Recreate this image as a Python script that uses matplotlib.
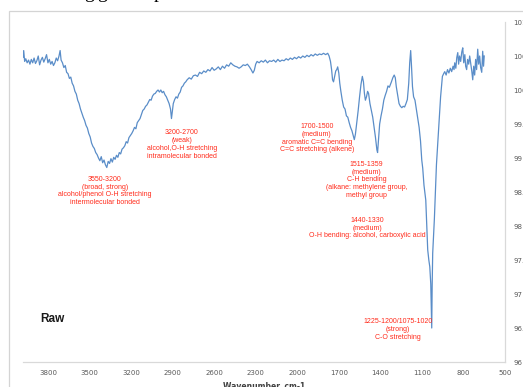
import matplotlib
matplotlib.use("Agg")
import matplotlib.pyplot as plt
from matplotlib.patches import Rectangle

# FTIR spectrum of the raw sample (wavenumber in cm-1, transmittance in %)
wavenumber = [
    3980, 3975, 3968, 3960, 3950, 3940, 3930, 3920, 3910, 3900,
    3890, 3880, 3870, 3860, 3850, 3840, 3830, 3820, 3810, 3800,
    3790, 3780, 3770, 3760, 3750, 3740, 3730, 3720, 3712, 3705,
    3695, 3685, 3675, 3665, 3655, 3645, 3635, 3625, 3615, 3605,
    3595, 3585, 3575, 3565, 3555, 3545, 3535, 3525, 3515, 3505,
    3495, 3485, 3475, 3465, 3455, 3445, 3435, 3425, 3415, 3405,
    3395, 3385, 3375, 3365, 3355, 3345, 3335, 3325, 3315, 3305,
    3295, 3285, 3275, 3265, 3255, 3245, 3235, 3225, 3215, 3205,
    3195, 3185, 3175, 3165, 3155, 3145, 3135, 3125, 3115, 3105,
    3095, 3085, 3075, 3065, 3055, 3045, 3035, 3025, 3015, 3005,
    2995, 2985, 2975, 2965, 2955, 2945, 2935, 2925, 2915, 2908,
    2903, 2895, 2885, 2875, 2865, 2855, 2845, 2835, 2825, 2815,
    2805, 2795, 2780, 2765, 2750, 2735, 2720, 2705, 2690, 2675,
    2660, 2645, 2630, 2615, 2600, 2585, 2570, 2555, 2540, 2525,
    2510, 2495, 2480, 2465, 2450, 2435, 2420, 2405, 2390, 2375,
    2360, 2345, 2333, 2320, 2310, 2300, 2290, 2275, 2260, 2245,
    2230, 2215, 2200, 2185, 2170, 2155, 2140, 2125, 2110, 2095,
    2080, 2065, 2050, 2035, 2020, 2005, 1990, 1975, 1960, 1945,
    1930, 1915, 1900, 1885, 1870, 1855, 1840, 1825, 1810, 1795,
    1780, 1770, 1760, 1752, 1745, 1738, 1730, 1722, 1715, 1708,
    1700, 1693, 1685, 1675, 1665, 1655, 1645, 1635, 1625, 1615,
    1605, 1595, 1588, 1580, 1570, 1560, 1550, 1540, 1530, 1522,
    1515, 1508, 1500, 1492, 1485, 1475, 1465, 1455, 1445, 1435,
    1425, 1420, 1412, 1405, 1395, 1385, 1375, 1365, 1355, 1345,
    1335, 1320, 1310, 1300, 1292, 1285, 1275, 1265, 1255, 1245,
    1235, 1225, 1215, 1205, 1195, 1188, 1181, 1175, 1168, 1160,
    1150, 1140, 1130, 1120, 1110, 1101, 1094, 1085, 1072, 1065,
    1058, 1050, 1043, 1036, 1029, 1026, 1022, 1010, 995, 980,
    965, 952, 943, 935, 925, 915, 905, 895, 885, 875,
    868, 863, 855, 848, 841, 835, 828, 820, 812, 805,
    798, 790, 784, 777, 770, 762, 755, 748, 740, 733,
    726, 719, 712, 705, 697, 690, 683, 676, 668, 661,
    655, 650,
]
transmittance = [
    100.48, 100.58, 100.42, 100.46, 100.40, 100.44, 100.38, 100.45, 100.40, 100.47,
    100.39, 100.43, 100.50, 100.37, 100.44, 100.48, 100.41, 100.46, 100.52, 100.40,
    100.45, 100.38, 100.42, 100.36, 100.40, 100.47, 100.43, 100.50, 100.58, 100.44,
    100.40, 100.33, 100.36, 100.26, 100.24, 100.17, 100.19, 100.10, 100.06, 99.98,
    99.94, 99.85, 99.80, 99.72, 99.66, 99.60, 99.55, 99.48, 99.44, 99.36,
    99.31, 99.22, 99.17, 99.14, 99.08, 99.05, 99.00, 98.96, 99.02, 98.93,
    98.97, 98.90, 98.86, 98.95, 98.92, 98.99, 98.94, 99.01, 98.98, 99.04,
    99.01, 99.08, 99.06, 99.13, 99.15, 99.18, 99.24, 99.22, 99.30, 99.33,
    99.36, 99.40, 99.45, 99.43, 99.52, 99.55, 99.58, 99.64, 99.70, 99.72,
    99.76, 99.78, 99.82, 99.86, 99.85, 99.91, 99.94, 99.95, 99.98, 100.00,
    99.97, 100.00, 99.96, 99.98, 99.93, 99.90, 99.85, 99.80, 99.72, 99.58,
    99.66, 99.80, 99.86, 99.90, 99.88, 99.94, 99.97, 100.04, 100.06, 100.10,
    100.12, 100.15, 100.18, 100.16, 100.21, 100.22, 100.20, 100.26, 100.24, 100.28,
    100.26, 100.30, 100.28, 100.33, 100.29, 100.31, 100.34, 100.30, 100.35, 100.32,
    100.37, 100.35, 100.40, 100.37, 100.35, 100.34, 100.32, 100.34, 100.37, 100.36,
    100.38, 100.34, 100.30, 100.25, 100.29, 100.38, 100.42, 100.40, 100.43, 100.41,
    100.44, 100.40, 100.43, 100.42, 100.44, 100.41, 100.45, 100.42, 100.44, 100.43,
    100.46, 100.44, 100.47, 100.45, 100.48, 100.46, 100.49, 100.47, 100.50, 100.48,
    100.51, 100.49, 100.52, 100.50, 100.53, 100.51, 100.53, 100.52, 100.54, 100.52,
    100.54, 100.50, 100.42, 100.30, 100.15, 100.12, 100.20, 100.28, 100.30, 100.34,
    100.25, 100.10, 99.98, 99.85, 99.75, 99.72, 99.62, 99.60, 99.52, 99.45,
    99.40, 99.32, 99.27, 99.35, 99.52, 99.70, 99.90, 100.08, 100.20, 100.12,
    99.95, 99.85, 99.90, 99.98, 99.95, 99.80, 99.70, 99.60, 99.45, 99.30,
    99.12, 99.08, 99.30, 99.50, 99.62, 99.72, 99.85, 99.92, 99.98, 100.06,
    100.04, 100.12, 100.18, 100.22, 100.18, 100.05, 99.92, 99.80, 99.76, 99.74,
    99.76, 99.75, 99.80, 99.86, 100.10, 100.40, 100.58, 100.35, 100.05, 99.90,
    99.85, 99.72, 99.60, 99.45, 99.25, 98.97, 98.85, 98.60, 98.38, 98.00,
    97.65, 97.50, 97.40, 97.15, 96.50, 97.10, 97.60, 98.10, 98.90, 99.40,
    99.90, 100.20, 100.24, 100.27, 100.22, 100.30, 100.25, 100.32, 100.27, 100.35,
    100.30, 100.40, 100.32, 100.48, 100.55, 100.38, 100.50, 100.42, 100.56, 100.62,
    100.40, 100.52, 100.35, 100.30, 100.45, 100.38, 100.50, 100.40, 100.28, 100.15,
    100.35, 100.22, 100.45, 100.30, 100.60, 100.38, 100.50, 100.33, 100.26, 100.57,
    100.35, 100.50,
]

x_ticks = [3800, 3500, 3200, 2900, 2600, 2300, 2000, 1700, 1400, 1100, 800, 500]
y_ticks = [96, 96.5, 97, 97.5, 98, 98.5, 99, 99.5, 100, 100.5, 101]

# Band assignments: (text, wavenumber, transmittance) of each label block centre
band_labels = [
    ("3550-3200\n(broad, strong)\nalcohol/phenol O-H stretching\nintermolecular bonded", 3388, 98.515),
    ("3200-2700\n(weak)\nalcohol,O-H stretching\nintramolecular bonded", 2833, 99.20),
    ("1700-1500\n(medium)\naromatic C=C bending\nC=C stretching (alkene)", 1859, 99.29),
    ("1515-1359\n(medium)\nC-H bending\n(alkane: methylene group,\nmethyl group", 1498, 98.68),
    ("1440-1330\n(medium)\nO-H bending: alcohol, carboxylic acid", 1491, 97.97),
    ("1225-1200/1075-1020\n(strong)\nC-O stretching", 1274, 96.48),
]

W, H = 523, 387
fig = plt.figure(figsize=(W / 100, H / 100), dpi=100)
fig.patch.set_facecolor("white")

# chart frame
fig.add_artist(Rectangle((9 / W, -0.2), 1.2, (H - 11) / H + 0.2,
                         transform=fig.transFigure, fill=False,
                         edgecolor="#D4D4D4", linewidth=0.9))

# descenders of the document text above the chart
for ch, px in [("g", 84), ("g", 97), ("p", 154)]:
    fig.text(px / W, 1.0 + 2 / H, ch, family="Liberation Serif", fontsize=14,
             color="black", va="baseline", ha="left")

ax = fig.add_axes([23 / W, (H - 362) / H, 482 / W, 340 / H])
ax.set_facecolor("none")
ax.plot(wavenumber, transmittance, color="#5A8DC8", linewidth=0.9)

ax.set_xlim(3980, 500)
ax.set_ylim(96, 101)
ax.set_xticks(x_ticks)
ax.set_xticklabels([str(v) for v in x_ticks])
ax.set_yticks(y_ticks)
ax.set_yticklabels([f"{v:g}" for v in y_ticks])
ax.yaxis.tick_right()
ax.tick_params(axis="both", length=0, labelsize=5, colors="#595959")
ax.tick_params(axis="x", pad=6)
ax.tick_params(axis="y", pad=6)

for side in ["top", "left"]:
    ax.spines[side].set_visible(False)
for side in ["bottom", "right"]:
    ax.spines[side].set_color("#D9D9D9")
    ax.spines[side].set_linewidth(0.9)

ax.set_xlabel("Wavenumber, cm-1", fontsize=5.5, fontweight="bold",
              color="#404040", labelpad=4)

for text, wn, tr in band_labels:
    ax.text(wn, tr, text, color="#FF2A1A", fontsize=5.0, ha="center", va="center",
            family="Liberation Sans", linespacing=1.15)

ax.text(3771, 96.63, "Raw", fontsize=8.5, fontweight="bold", color="#1A1A1A",
        ha="center", va="center", family="Liberation Sans")

fig.savefig("out.png", dpi=100)
